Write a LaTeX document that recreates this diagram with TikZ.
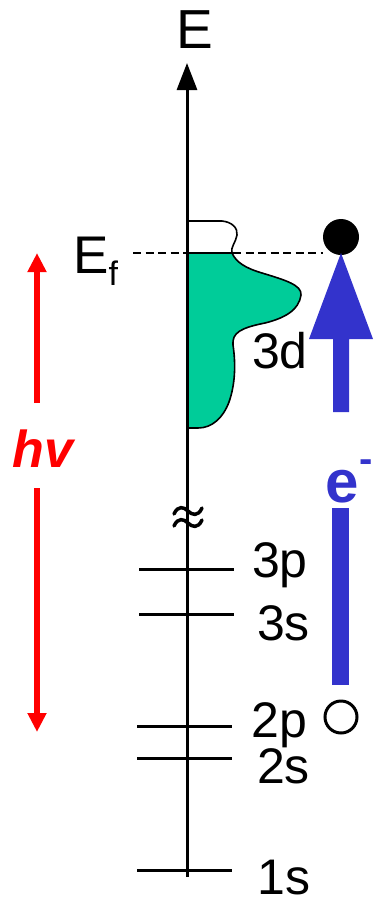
\documentclass[tikz,border=0pt]{standalone}
\usepackage{fontspec}
\setmainfont{Liberation Sans}
\usetikzlibrary{arrows.meta}
\definecolor{dosgreen}{HTML}{00CC99}
\definecolor{eblue}{HTML}{3333CC}
\definecolor{hvred}{HTML}{FF0000}
\tikzset{
  lbl/.style={inner sep=0pt, anchor=base, font=\fontsize{50}{50}\selectfont},
  level/.style={line width=3pt},
  redarrow/.style={draw=hvred, line width=6pt, -{Triangle[length=19pt,width=18pt]}},
  outline/.style={draw=black, line width=1.6pt, line join=round},
}
\begin{document}
\begin{tikzpicture}[x=1pt,y=-1pt]
\useasboundingbox (0,0) rectangle (373,900);
% density of states
\path[outline, fill=white] (188,253) -- (188,221) -- (222,221) .. controls (232,222) and (238,228) .. (237,235) .. controls (236,242) and (230,248) .. (232,253) -- cycle;
\path[outline, fill=dosgreen] (188,253) -- (232,253) .. controls (236,262) and (245,268) .. (262,273) .. controls (285,280) and (302,285) .. (301,295) .. controls (299,310) and (285,318) .. (265,323) .. controls (240,328) and (232,333) .. (233,345) .. controls (236,365) and (235,385) .. (229,402) .. controls (223,418) and (212,428) .. (198,428) -- (188,428) -- cycle;
% axis
\coordinate (axB) at (187,877);
\coordinate (axT) at (187,63);
\draw[line width=3pt, -{Triangle[length=27pt,width=20pt]}] (axB) -- (axT);
\node[lbl, font=\fontsize{55}{55}\selectfont] (E) at (195,48) {E};
% Fermi level
\coordinate (efL) at (133,253);
\coordinate (efR) at (323,253);
\draw[line width=1.5pt, dash pattern=on 8pt off 4.5pt] (efL) -- (efR);
\node[lbl, anchor=base west, font=\fontsize{53}{53}\selectfont] (Ef) at (73,273) {E\raisebox{-12pt}{\fontsize{34}{34}\selectfont f}};
\node[lbl] (l3d) at (280,368) {3d};
% break symbol
\foreach \yy in {511,523} {
  \draw[line width=3.5pt, line cap=round] (174,\yy+3) .. controls (178,\yy-6) and (184,\yy-4) .. (188,\yy) .. controls (192,\yy+4) and (198,\yy+6) .. (202,\yy-3);
}
% core levels
\foreach \yy/\xa/\xb/\nm in {569/139/234/p3, 614/139/234/s3, 726/137/232/p2, 758/137/232/s2, 870/137/232/s1} {
  \coordinate (\nm L) at (\xa,\yy);
  \coordinate (\nm R) at (\xb,\yy);
  \draw[level] (\nm L) -- (\nm R);
}
\node[lbl] (t3p) at (280,577) {3p};
\node[lbl] (t3s) at (283.5,640) {3s};
\node[lbl] (t2p) at (279.5,737) {2p};
\node[lbl] (t2s) at (283.5,783) {2s};
\node[lbl] (t1s) at (284,894) {1s};
% photon
\coordinate (hvU0) at (37,403);
\coordinate (hvU1) at (37,253);
\coordinate (hvD0) at (37,488);
\coordinate (hvD1) at (37,732);
\draw[redarrow] (hvU0) -- (hvU1);
\draw[redarrow] (hvD0) -- (hvD1);
\node[lbl, text=hvred, font=\fontsize{52}{52}\selectfont\bfseries\itshape] (hv) at (43,467) {hv};
% electron
\node[circle, fill=black, minimum size=36pt, inner sep=0pt] (el) at (341,237) {};
\fill[eblue] (341,253) -- (373,339) -- (349,339) -- (349,412) -- (333,412) -- (333,339) -- (309,339) -- cycle;
\node[lbl, anchor=base west, text=eblue, font=\fontsize{60}{60}\selectfont\bfseries] (em) at (325,502) {e\hspace{1pt}\raisebox{30pt}{\fontsize{40}{40}\selectfont -}};
\fill[eblue] (332,508) rectangle (349,685);
\node[circle, draw=black, line width=3pt, minimum size=32pt, inner sep=0pt] (hole) at (341,717) {};
\end{tikzpicture}
\end{document}
